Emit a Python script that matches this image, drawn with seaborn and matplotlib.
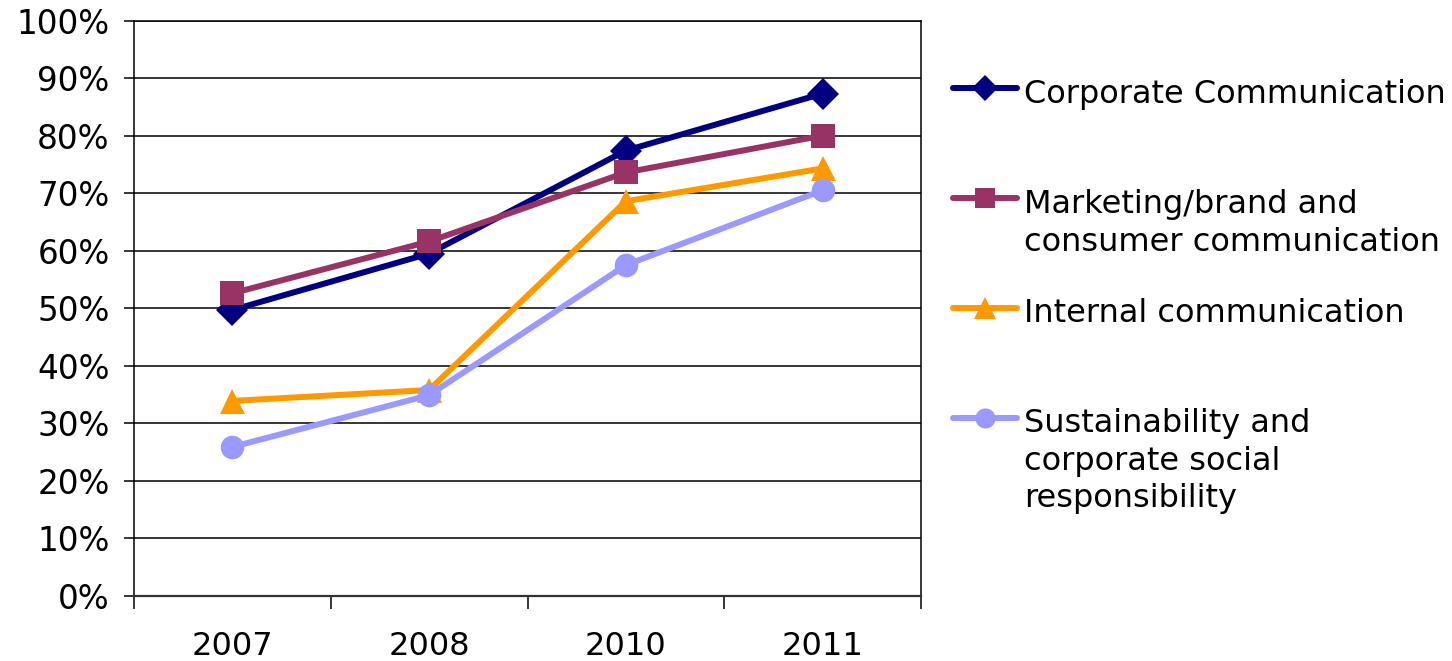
import matplotlib
matplotlib.use("Agg")
import matplotlib.pyplot as plt
from matplotlib.lines import Line2D
from matplotlib.ticker import PercentFormatter, FixedLocator
import seaborn as sns
import pandas as pd

# Survey years and share of respondents per communication field
years = ["2007", "2008", "2010", "2011"]
corporate = [0.497, 0.595, 0.774, 0.873]
marketing = [0.526, 0.616, 0.736, 0.800]
internal = [0.339, 0.358, 0.686, 0.743]
sustainability = [0.259, 0.349, 0.575, 0.705]

series_names = [
    "Corporate Communication",
    "Marketing/brand and\nconsumer communication",
    "Internal communication",
    "Sustainability and\ncorporate social\nresponsibility",
]
series_values = [corporate, marketing, internal, sustainability]
colors = ["#000080", "#993366", "#FF9900", "#9999FF"]
markers = ["D", "s", "^", "o"]
marker_sizes = [16, 17, 18, 17]

df = pd.DataFrame(
    [(y, name, v) for name, vals in zip(series_names, series_values)
     for y, v in zip(years, vals)],
    columns=["year", "series", "share"],
)

sns.set_theme(style="white")
plt.rcParams["font.family"] = ["DejaVu Sans"]
plt.rcParams["text.color"] = "black"
plt.rcParams["xtick.color"] = "black"
plt.rcParams["ytick.color"] = "black"

W, H = 1452, 661
fig = plt.figure(figsize=(W / 100, H / 100), dpi=100)
ax = fig.add_axes([134 / W, 1 - 596 / H, (921 - 134) / W, (596 - 20.5) / H])

for name, col, mk, ms in zip(series_names, colors, markers, marker_sizes):
    sub = df[df["series"] == name]
    sns.lineplot(data=sub, x="year", y="share", ax=ax, color=col,
                 marker=mk, markersize=ms, markeredgewidth=0,
                 linewidth=4.3, errorbar=None, sort=False, legend=False)

ax.set_xlim(-0.5, 3.5)
ax.set_ylim(0, 1)
ax.set_xlabel("")
ax.set_ylabel("")

# y axis: percentage gridlines every 10 %
ax.yaxis.set_major_locator(FixedLocator([i / 10 for i in range(11)]))
ax.yaxis.set_major_formatter(PercentFormatter(1.0, decimals=0))
ax.grid(axis="y", color="black", linewidth=1.1)
ax.grid(axis="x", visible=False)
ax.tick_params(axis="y", which="major", direction="out", length=7.5, width=1.1,
               color="black", labelcolor="black", labelsize=23.5, pad=10,
               left=True)

# x axis: labels at category centres, tick marks between categories
ax.xaxis.set_minor_locator(FixedLocator([-0.5, 0.5, 1.5, 2.5, 3.5]))
ax.tick_params(axis="x", which="major", length=0, labelsize=23,
               labelcolor="black", pad=25)
ax.tick_params(axis="x", which="minor", direction="out", length=9, width=1.1,
               color="black", bottom=True)

for side in ["left", "bottom", "right", "top"]:
    ax.spines[side].set_visible(True)
    ax.spines[side].set_color("black")
    ax.spines[side].set_linewidth(1.1)
ax.spines["bottom"].set_color("#333333")
ax.spines["bottom"].set_linewidth(1.6)

# Legend built entry by entry to the right of the plot
handle_y = [88, 198, 308, 418]
first_baseline = [103, 213, 322, 432]
line_step = 37.7


def fx(px):
    return px / W


def fy(py):
    return 1 - py / H


for name, col, mk, ms, hy, by in zip(series_names, colors, markers,
                                     marker_sizes, handle_y, first_baseline):
    fig.add_artist(Line2D([fx(953), fx(1017)], [fy(hy), fy(hy)],
                          transform=fig.transFigure, color=col, linewidth=4.3,
                          solid_capstyle="round"))
    fig.add_artist(Line2D([fx(985)], [fy(hy)], transform=fig.transFigure,
                          color=col, marker=mk, markersize=ms * 0.85,
                          markeredgewidth=0, linestyle="none"))
    for i, line in enumerate(name.split("\n")):
        fig.text(fx(1024), fy(by + i * line_step), line, fontsize=23,
                 va="baseline", ha="left", color="black")

fig.savefig("out.png", dpi=100, facecolor="white")
